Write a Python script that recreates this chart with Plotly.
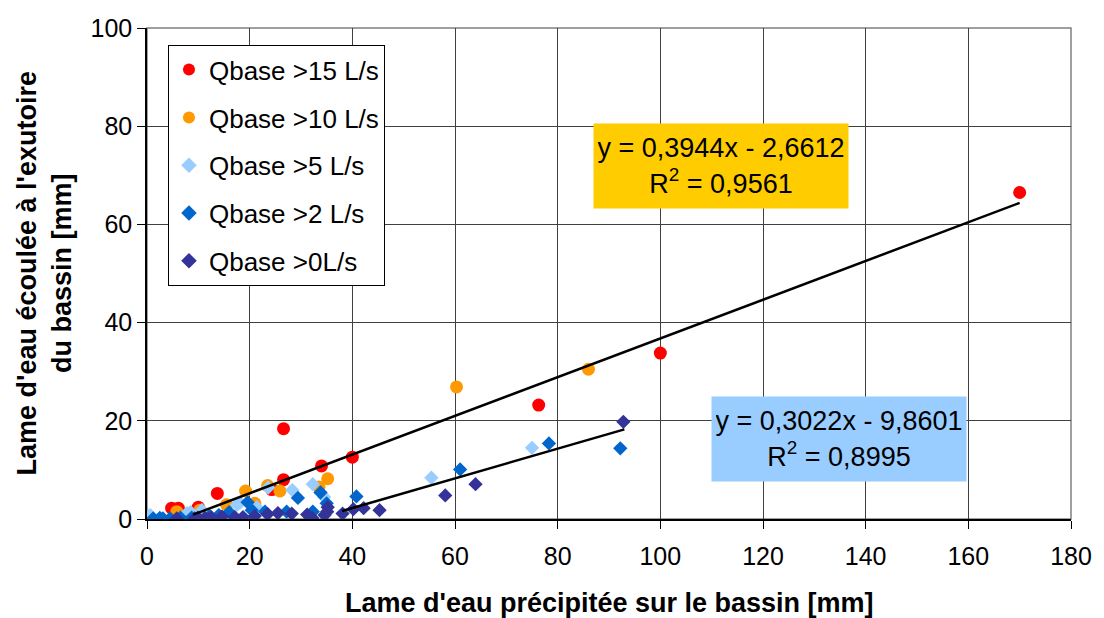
import plotly.graph_objects as go

# ---------------- data ----------------
series_names = ["Qbase >15 L/s", "Qbase >10 L/s", "Qbase >5 L/s", "Qbase >2 L/s", "Qbase >0L/s"]

q15_x = [170, 100, 76.3, 40, 34, 26.6, 26.6, 24.3, 13.7, 4.8, 6.1, 10]
q15_y = [66.5, 33.8, 23.2, 12.6, 10.8, 18.4, 8.0, 6.0, 5.2, 2.2, 2.2, 2.4]

q10_x = [86, 60.3, 35.2, 33.5, 25.9, 23.5, 19.2, 21, 15.5, 5.8, 10.3]
q10_y = [30.5, 26.9, 8.2, 6.5, 5.7, 6.8, 5.7, 3.2, 2.9, 1.5, 1.8]

q5_x = [75, 55.4, 32.3, 28.3, 23.6, 21.4, 17.5, 10.7, 7.8, 0.6, 8.5, 18.1, 34.5]
q5_y = [14.5, 8.4, 7.1, 5.9, 6.4, 2.4, 2.9, 1.8, 1.2, 0.8, 1.4, 3.3, 4.5]

q2_x = [92.2, 78.3, 61, 40.8, 33.8, 35, 29.4, 19.6, 20.4, 16, 12.2, 1.2, 3.1, 4.5, 8.7, 32.3, 27.2, 23, 14, 6.5, 2.5]
q2_y = [14.4, 15.4, 10.1, 4.6, 5.4, 3.2, 4.3, 3.4, 1.8, 1.4, 0.6, 0.1, 0.1, 0.1, 0.3, 1.5, 1.5, 1.5, 0.8, 0.3, 0.2]

q0_x = [92.8, 64, 58.1, 45.3, 42.2, 40.2, 38.1, 35.1, 35.2, 34.6, 32.2, 31.2, 28.2, 25.5, 23.5, 18.7, 17.1, 14.6, 11.3, 9.9, 9.3, 5.8, 12.5, 21]
q0_y = [19.8, 7.1, 4.8, 1.8, 2.2, 2.0, 1.1, 1.5, 2.4, 0.8, 0.2, 0.9, 1.1, 1.2, 1.0, 0.4, 0.4, 0.5, 0.2, 0.3, 0.1, 0.1, 0.4, 0.6]

# trend lines (Excel linear fits as printed on the chart)
trend1_slope, trend1_intercept, trend1_r2 = 0.3944, -2.6612, 0.9561
trend1_xrange = [9, 170]
trend2_slope, trend2_intercept, trend2_r2 = 0.3022, -9.8601, 0.8995
trend2_xrange = [38, 93]

x_ticks = [0, 20, 40, 60, 80, 100, 120, 140, 160, 180]
y_ticks = [0, 20, 40, 60, 80, 100]

# ---------------- styling ----------------
FONT = "Liberation Sans, Arial, sans-serif"
colors = ["#FF0000", "#FF9900", "#99CCFF", "#0066CC", "#333399"]
symbols = ["circle", "circle", "diamond", "diamond", "diamond"]
sizes = [13, 13, 11, 11, 11]

fig = go.Figure()
all_x = [q15_x, q10_x, q5_x, q2_x, q0_x]
all_y = [q15_y, q10_y, q5_y, q2_y, q0_y]
for i, name in enumerate(series_names):
    fig.add_trace(go.Scatter(
        x=all_x[i], y=all_y[i], mode="markers", name=name,
        legendgroup=f"g{i}",
        marker=dict(color=colors[i], symbol=symbols[i], size=sizes[i], line=dict(width=0)),
    ))

def fmt(v):
    return f"{v:.4f}".replace(".", ",")

for xr, a, b in [(trend1_xrange, trend1_slope, trend1_intercept),
                 (trend2_xrange, trend2_slope, trend2_intercept)]:
    fig.add_trace(go.Scatter(
        x=xr, y=[a * v + b for v in xr], mode="lines",
        line=dict(color="black", width=2.5), showlegend=False, hoverinfo="skip",
    ))

annotations = [
    dict(x=111.8, y=71.9, xref="x", yref="y",
         text=f"y = {fmt(trend1_slope)}x - {fmt(-trend1_intercept)}<br>R<sup>2</sup> = {fmt(trend1_r2)}",
         showarrow=False, bgcolor="#FFCC00", font=dict(family=FONT, size=27, color="black"),
         width=246, height=76, borderpad=4, align="center"),
    dict(x=134.9, y=16.3, xref="x", yref="y",
         text=f"y = {fmt(trend2_slope)}x - {fmt(-trend2_intercept)}<br>R<sup>2</sup> = {fmt(trend2_r2)}",
         showarrow=False, bgcolor="#99CCFF", font=dict(family=FONT, size=27, color="black"),
         width=246, height=76, borderpad=4, align="center"),
    dict(x=0.5, y=0, xref="paper", yref="paper", yanchor="middle", yshift=-84,
         text="<b>Lame d'eau précipitée sur le bassin [mm]</b>", showarrow=False,
         font=dict(family=FONT, size=27, color="black")),
    dict(x=0, y=0.5, xref="paper", yref="paper", xanchor="center", yanchor="middle",
         xshift=-103, textangle=-90,
         text="<b>Lame d'eau écoulée à l'exutoire<br>du bassin [mm]</b>", showarrow=False,
         font=dict(family=FONT, size=27, color="black")),
]

fig.update_layout(
    width=1104, height=618,
    margin=dict(l=147, r=31, t=28, b=99),
    paper_bgcolor="white", plot_bgcolor="white",
    font=dict(family=FONT, size=25, color="black"),
    showlegend=True,
    legend=dict(x=0.0227, y=0.965, xanchor="left", yanchor="top",
                bordercolor="black", borderwidth=1, bgcolor="white",
                font=dict(family=FONT, size=26, color="black"),
                traceorder="grouped", tracegroupgap=11, itemsizing="constant"),
    annotations=annotations,
    shapes=[dict(type="rect", xref="paper", yref="paper", x0=0, x1=1, y0=0, y1=1,
                 line=dict(color="#808080", width=1.5), layer="below")],
)
fig.update_xaxes(range=[0, 180], tickvals=x_ticks, showgrid=True, gridcolor="#404040", gridwidth=1,
                 showline=True, linecolor="black", linewidth=1.5, ticks="outside", ticklen=8,
                 tickcolor="black", zeroline=False, ticklabelstandoff=6)
fig.update_yaxes(range=[0, 100], tickvals=y_ticks, showgrid=True, gridcolor="#404040", gridwidth=1,
                 showline=True, linecolor="black", linewidth=1.5, ticks="outside", ticklen=8,
                 tickcolor="black", zeroline=False, ticklabelstandoff=0)

fig.write_html("out.html")
